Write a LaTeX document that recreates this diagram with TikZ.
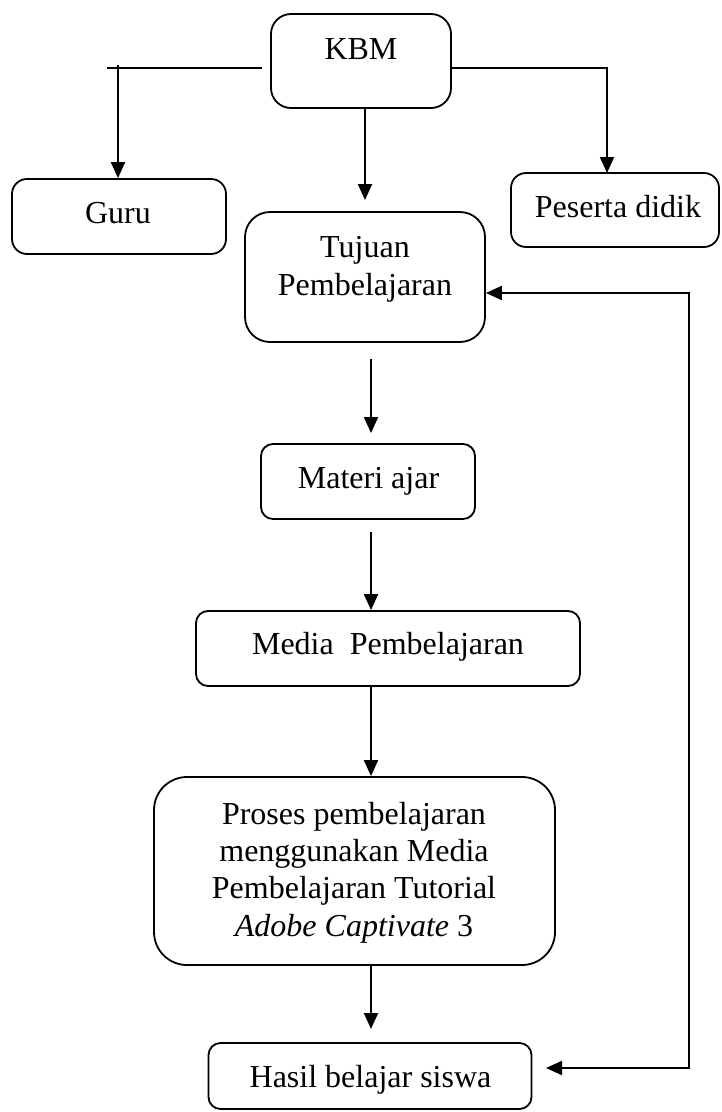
\documentclass[tikz,border=0pt]{standalone}
\usepackage{fontspec}
\setmainfont{Liberation Serif}
\usetikzlibrary{arrows.meta}
\tikzset{
  box/.style={draw, line width=1.8pt, inner sep=0pt},
  txt/.style={inner sep=0pt, anchor=base},
  conn/.style={line width=2pt},
  arr/.style={conn, -{Triangle[length=16pt,width=14pt]}},
  arrboth/.style={conn, {Triangle[length=16pt,width=14pt]}-{Triangle[length=16pt,width=14pt]}}
}
\begin{document}
\begin{tikzpicture}[x=1pt,y=-1pt,font=\fontsize{32}{37}\selectfont]
\useasboundingbox (0,0) rectangle (721,1112);
% boxes
\node[box, rounded corners=20pt, minimum width=180pt, minimum height=94pt] (kbm) at (361,61) {};
\node[box, rounded corners=15pt, minimum width=214pt, minimum height=75pt] (guru) at (119,216.5) {};
\node[box, rounded corners=15pt, minimum width=208pt, minimum height=74pt] (peserta) at (615,210) {};
\node[box, rounded corners=25pt, minimum width=240pt, minimum height=130pt] (tujuan) at (365,277) {};
\node[box, rounded corners=12pt, minimum width=214pt, minimum height=75pt] (materi) at (368,481.5) {};
\node[box, rounded corners=12pt, minimum width=384pt, minimum height=75pt] (media) at (388,648.5) {};
\node[box, rounded corners=33pt, minimum width=401pt, minimum height=188pt] (proses) at (354.5,871) {};
\node[box, rounded corners=12pt, minimum width=323pt, minimum height=66pt] (hasil) at (370,1076) {};
% texts
\node[txt] (tkbm) at (361,59) {KBM};
\node[txt] (tguru) at (118,223) {Guru};
\node[txt] (tpeserta) at (618,217) {Peserta didik};
\node[txt] (ttuj1) at (365,257) {Tujuan};
\node[txt] (ttuj2) at (365,295) {Pembelajaran};
\node[txt] (tmateri) at (368.5,488) {Materi ajar};
\node[txt] (tmedia) at (388,654) {Media\hspace{16pt}Pembelajaran};
\node[txt] (tpr1) at (354,824) {Proses pembelajaran};
\node[txt] (tpr2) at (354,861) {menggunakan Media};
\node[txt] (tpr3) at (354,898) {Pembelajaran Tutorial};
\node[txt] (tpr4) at (354,936) {\textit{Adobe Captivate} 3};
\node[txt] (thasil) at (370.5,1087) {Hasil belajar siswa};
% connector points
\coordinate (kl) at (262,68);
\coordinate (ll) at (107,68);
\coordinate (gv) at (118,65);
\coordinate (kr) at (kbm.east |- kl);
\coordinate (rv) at (607,68);
\coordinate (pt) at (607,173);
\coordinate (tt) at (365,200);
\coordinate (a1) at (371,359);
\coordinate (a1e) at (371,433);
\coordinate (a2) at (371,532);
\coordinate (a3) at (371,686);
\coordinate (a4) at (371,965);
\coordinate (a4e) at (371,1029);
\coordinate (fb1) at (689,293);
\coordinate (fb2) at (689,1068);
\coordinate (fbe) at (546,1068);
% connectors
\draw[conn] (kl) -- (ll);
\draw[arr] (gv) -- (guru.north -| gv);
\draw[arr] (kr) -- (rv) -- (pt);
\draw[arr] (kbm.south -| tt) -- (tt);
\draw[arr] (a1) -- (a1e);
\draw[arr] (a2) -- (media.north -| a2);
\draw[arr] (a3) -- (proses.north -| a3);
\draw[arr] (a4) -- (a4e);
\draw[arrboth] (tujuan.east |- fb1) -- (fb1) -- (fb2) -- (fbe);
\end{tikzpicture}
\end{document}
